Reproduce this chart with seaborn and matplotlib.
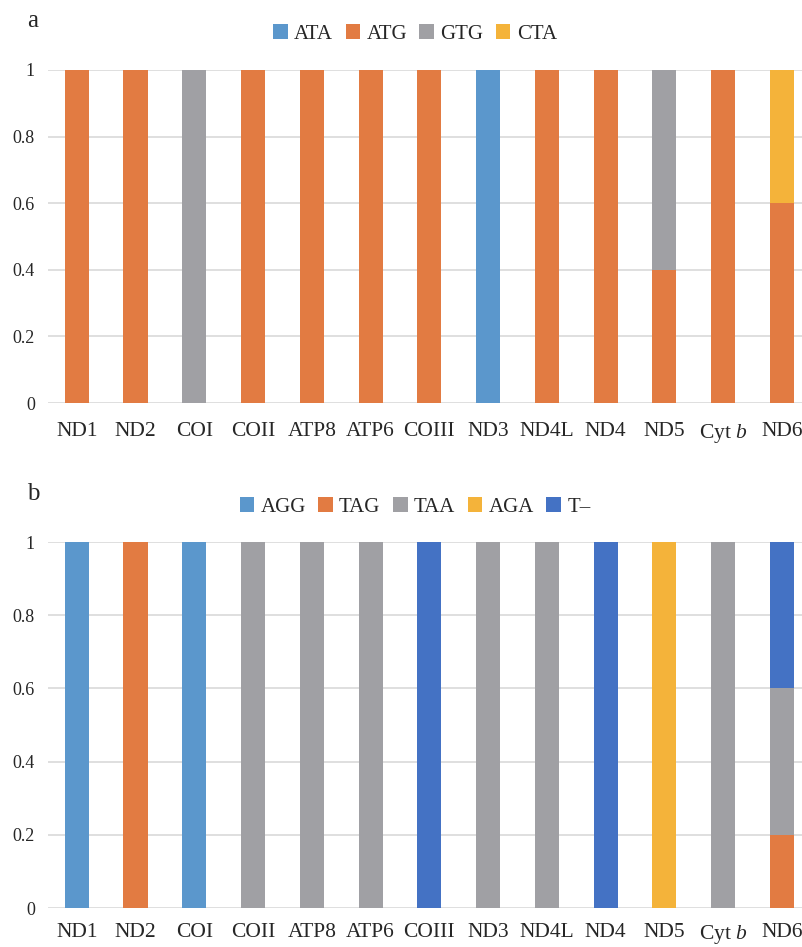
import numpy as np
import pandas as pd
import matplotlib
matplotlib.use("Agg")
import matplotlib.pyplot as plt
from matplotlib.patches import Patch
import seaborn as sns

genes = ["ND1", "ND2", "COI", "COII", "ATP8", "ATP6", "COIII", "ND3", "ND4L", "ND4", "ND5", "Cyt $\\it{b}$", "ND6"]

# Panel a: start codons
start_codons = ["ATA", "ATG", "GTG", "CTA"]
ata = [0, 0, 0, 0, 0, 0, 0, 1, 0, 0, 0, 0, 0]
atg = [1, 1, 0, 1, 1, 1, 1, 0, 1, 1, 0.4, 1, 0.6]
gtg = [0, 0, 1, 0, 0, 0, 0, 0, 0, 0, 0.6, 0, 0]
cta = [0, 0, 0, 0, 0, 0, 0, 0, 0, 0, 0, 0, 0.4]
start_colors = ["#5B97CC", "#E27B42", "#A0A0A4", "#F4B33A"]

# Panel b: stop codons
stop_codons = ["AGG", "TAG", "TAA", "AGA", "T–"]
agg = [1, 0, 1, 0, 0, 0, 0, 0, 0, 0, 0, 0, 0]
tag = [0, 1, 0, 0, 0, 0, 0, 0, 0, 0, 0, 0, 0.2]
taa = [0, 0, 0, 1, 1, 1, 0, 1, 1, 0, 0, 1, 0.4]
aga = [0, 0, 0, 0, 0, 0, 0, 0, 0, 0, 1, 0, 0]
tdash = [0, 0, 0, 0, 0, 0, 1, 0, 0, 1, 0, 0, 0.4]
stop_colors = ["#5B97CC", "#E27B42", "#A0A0A4", "#F4B33A", "#4472C4"]

yticks = [0, 0.2, 0.4, 0.6, 0.8, 1]
ytick_labels = ["0", "0.2", "0.4", "0.6", "0.8", "1"]

sns.set_style("white")
plt.rcParams["font.family"] = ["Liberation Serif", "DejaVu Serif"]
plt.rcParams["mathtext.fontset"] = "custom"
plt.rcParams["mathtext.rm"] = "Liberation Serif"
plt.rcParams["mathtext.it"] = "Liberation Serif:italic"

fig = plt.figure(figsize=(8.03, 9.47), dpi=100)
W, H = 803, 947


def make_ax(top_px, bottom_px):
    left = 48 / W
    return fig.add_axes([left, 1 - bottom_px / H, 1 - left, (bottom_px - top_px) / H])


def draw_panel(ax, names, series, colors, legend_y_px, xpad):
    cums = np.cumsum(np.array(series, dtype=float), axis=0)
    for i in range(len(series) - 1, -1, -1):
        df = pd.DataFrame({"gene": genes, "val": cums[i]})
        sns.barplot(data=df, x="gene", y="val", color=colors[i], saturation=1,
                    width=0.41, ax=ax, linewidth=0, errorbar=None)
    ax.set_ylim(0, 1)
    ax.set_xlim(-0.49, 12.36)
    ax.set_yticks(yticks)
    ax.set_yticklabels(ytick_labels, fontsize=13)
    ax.tick_params(axis="x", labelsize=15.5, length=0, pad=xpad)
    ax.tick_params(axis="y", length=0, pad=9.5)
    ax.set_xlabel("")
    ax.set_ylabel("")
    for s in ax.spines.values():
        s.set_visible(False)
    ax.yaxis.grid(True, color="#D9D9D9", linewidth=1.2)
    ax.set_axisbelow(True)
    handles = [Patch(facecolor=c, edgecolor="none", label=n) for n, c in zip(names, colors)]
    fig.legend(handles=handles, loc="center", bbox_to_anchor=(415 / W, 1 - legend_y_px / H),
               ncol=len(names), frameon=False, fontsize=15, handlelength=0.7,
               handleheight=0.7, handletextpad=0.3, columnspacing=0.6)
    return ax


ax1 = make_ax(70, 403)
draw_panel(ax1, start_codons, [ata, atg, gtg, cta], start_colors, 34, 14)
ax2 = make_ax(542, 908)
draw_panel(ax2, stop_codons, [agg, tag, taa, aga, tdash], stop_colors, 507, 11)

fig.text(27 / W, 1 - 21 / H, "a", fontsize=18, ha="left", va="center")
fig.text(27 / W, 1 - 494 / H, "b", fontsize=18, ha="left", va="center")

fig.savefig("out.png", dpi=100)
